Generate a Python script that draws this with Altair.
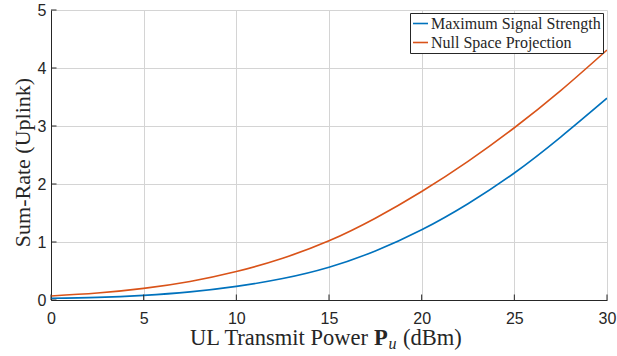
import altair as alt
import pandas as pd

# ---- data ----
power_dbm = [0, 2.5, 5, 7.5, 10, 12.5, 15, 17.5, 20, 22.5, 25, 27.5, 30]
max_signal_strength = [0.03, 0.045, 0.08, 0.14, 0.235, 0.37, 0.565, 0.845, 1.21, 1.66, 2.19, 2.81, 3.48]
null_space_projection = [0.07, 0.12, 0.20, 0.32, 0.49, 0.72, 1.02, 1.41, 1.87, 2.39, 2.97, 3.61, 4.31]
series_names = ["Maximum Signal Strength", "Null Space Projection"]
series_colors = ["#0072BD", "#D95319"]
x_ticks = [0, 5, 10, 15, 20, 25, 30]
y_ticks = [0, 1, 2, 3, 4, 5]

W, H = 556, 290
INK = "#262626"
SERIF = "'Liberation Serif', 'Times New Roman', Times, serif"
SANS = "'Liberation Sans', Arial, Helvetica, sans-serif"

rows = []
for name, vals in zip(series_names, [max_signal_strength, null_space_projection]):
    for p, v in zip(power_dbm, vals):
        rows.append({"power": p, "rate": v, "series": name})
df = pd.DataFrame(rows)

x_enc = alt.X("power:Q", scale=alt.Scale(domain=[0, 30], nice=False, zero=False),
              axis=alt.Axis(values=x_ticks, title=None, labelPadding=10, grid=True,
                            format="d", labelFlush=False))
y_enc = alt.Y("rate:Q", scale=alt.Scale(domain=[0, 5], nice=False),
              axis=alt.Axis(values=y_ticks, title="Sum-Rate (Uplink)", labelPadding=5, format="d",
                            labelFlush=False,
                            titleX=-29, titleY=152, titleAngle=270, titleBaseline="middle",
                            titleAlign="center", grid=True))

lines = alt.Chart(df).mark_line(strokeWidth=1.6, interpolate="natural", clip=True).encode(
    x=x_enc,
    y=y_enc,
    color=alt.Color("series:N",
                    scale=alt.Scale(domain=series_names, range=series_colors),
                    legend=alt.Legend(title=None, orient="none", legendX=359, legendY=3)),
)

# inward ticks (MATLAB style)
xt = pd.DataFrame({"power": x_ticks})
yt = pd.DataFrame({"rate": y_ticks})
xtick_rules = alt.Chart(xt).mark_rule(color=INK, strokeWidth=1).encode(
    x="power:Q", y=alt.value(H), y2=alt.value(H - 5.5))
ytick_rules = alt.Chart(yt).mark_rule(color=INK, strokeWidth=1).encode(
    y="rate:Q", x=alt.value(0), x2=alt.value(5.5))

dummy = pd.DataFrame({"k": [0]})
title_parts = [
    ("UL Transmit Power", 139, 335, 22.5, "normal", "normal"),
    ("P", 323, 335, 22.5, "bold", "normal"),
    ("u", 337.5, 339, 16, "normal", "italic"),
    ("(dBm)", 352, 335, 22.5, "normal", "normal"),
]
title_layers = []
for txt, tx, ty, fs, fw, fst in title_parts:
    title_layers.append(
        alt.Chart(dummy).mark_text(text=txt, align="left", baseline="alphabetic",
                                   font=SERIF, fontSize=fs, fontWeight=fw,
                                   fontStyle=fst, color=INK, clip=False)
        .encode(x=alt.value(tx), y=alt.value(ty))
    )

chart = alt.layer(lines, xtick_rules, ytick_rules, *title_layers).properties(
    width=W, height=H,
    autosize=alt.AutoSizeParams(type="none"),
    padding={"left": 51, "top": 10, "right": 10, "bottom": 56},
    background="white",
).configure_view(stroke=None).configure_axis(
    domainColor=INK, domainWidth=1,
    gridColor="#d4d4d4", gridWidth=1,
    ticks=False, tickSize=0,
    labelFont=SANS, labelFontSize=16, labelColor=INK,
    titleFont=SERIF, titleFontSize=22, titleFontWeight="normal", titleColor=INK,
).configure_legend(
    strokeColor=INK, fillColor="white", padding=2, cornerRadius=0,
    symbolType="stroke", symbolSize=225, symbolStrokeWidth=1.6,
    labelFont=SERIF, labelFontSize=16, labelColor=INK,
    labelLimit=400, rowPadding=2, labelOffset=2,
)

chart.save("out.html", embed_options={"renderer": "svg", "actions": False})
